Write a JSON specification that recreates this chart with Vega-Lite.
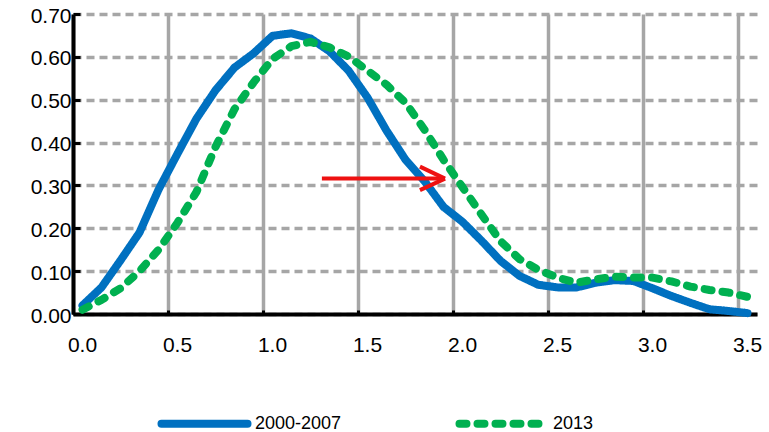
{
  "$schema": "https://vega.github.io/schema/vega-lite/v6.json",
  "width": 684,
  "height": 300,
  "autosize": "none",
  "padding": {"left": 73, "top": 14, "right": 12, "bottom": 118},
  "background": "white",
  "config": {
    "view": {"stroke": null},
    "font": "Liberation Sans",
    "axis": {
      "title": null,
      "labelFontSize": 21,
      "labelColor": "black",
      "labelFont": "Liberation Sans",
      "labelFlush": false,
      "domainColor": "black",
      "domainWidth": 4,
      "tickColor": "black",
      "tickWidth": 3,
      "gridColor": "#A6A6A6",
      "gridWidth": 3.5,
      "gridOpacity": 1
    }
  },
  "datasets": {
    "curves": [
      {"period": "2000-2007", "x": 0.05, "y": 0.02},
      {"period": "2000-2007", "x": 0.15, "y": 0.062},
      {"period": "2000-2007", "x": 0.25, "y": 0.125},
      {"period": "2000-2007", "x": 0.35, "y": 0.19},
      {"period": "2000-2007", "x": 0.45, "y": 0.29},
      {"period": "2000-2007", "x": 0.55, "y": 0.374},
      {"period": "2000-2007", "x": 0.65, "y": 0.456},
      {"period": "2000-2007", "x": 0.75, "y": 0.522},
      {"period": "2000-2007", "x": 0.85, "y": 0.575},
      {"period": "2000-2007", "x": 0.95, "y": 0.608},
      {"period": "2000-2007", "x": 1.05, "y": 0.649},
      {"period": "2000-2007", "x": 1.15, "y": 0.655},
      {"period": "2000-2007", "x": 1.25, "y": 0.643},
      {"period": "2000-2007", "x": 1.35, "y": 0.613},
      {"period": "2000-2007", "x": 1.45, "y": 0.568},
      {"period": "2000-2007", "x": 1.55, "y": 0.505},
      {"period": "2000-2007", "x": 1.65, "y": 0.428},
      {"period": "2000-2007", "x": 1.75, "y": 0.36},
      {"period": "2000-2007", "x": 1.85, "y": 0.31},
      {"period": "2000-2007", "x": 1.95, "y": 0.25},
      {"period": "2000-2007", "x": 2.05, "y": 0.215},
      {"period": "2000-2007", "x": 2.15, "y": 0.171},
      {"period": "2000-2007", "x": 2.25, "y": 0.124},
      {"period": "2000-2007", "x": 2.35, "y": 0.089},
      {"period": "2000-2007", "x": 2.45, "y": 0.068},
      {"period": "2000-2007", "x": 2.55, "y": 0.062},
      {"period": "2000-2007", "x": 2.65, "y": 0.062},
      {"period": "2000-2007", "x": 2.75, "y": 0.073},
      {"period": "2000-2007", "x": 2.85, "y": 0.079},
      {"period": "2000-2007", "x": 2.95, "y": 0.077},
      {"period": "2000-2007", "x": 3.05, "y": 0.06},
      {"period": "2000-2007", "x": 3.15, "y": 0.042},
      {"period": "2000-2007", "x": 3.25, "y": 0.026},
      {"period": "2000-2007", "x": 3.35, "y": 0.011},
      {"period": "2000-2007", "x": 3.45, "y": 0.007},
      {"period": "2000-2007", "x": 3.55, "y": 0.002},
      {"period": "2013", "x": 0.05, "y": 0.01},
      {"period": "2013", "x": 0.15, "y": 0.033},
      {"period": "2013", "x": 0.25, "y": 0.06},
      {"period": "2013", "x": 0.35, "y": 0.1},
      {"period": "2013", "x": 0.45, "y": 0.15},
      {"period": "2013", "x": 0.55, "y": 0.213},
      {"period": "2013", "x": 0.65, "y": 0.285},
      {"period": "2013", "x": 0.75, "y": 0.39},
      {"period": "2013", "x": 0.85, "y": 0.478},
      {"period": "2013", "x": 0.95, "y": 0.54},
      {"period": "2013", "x": 1.05, "y": 0.595},
      {"period": "2013", "x": 1.15, "y": 0.625},
      {"period": "2013", "x": 1.25, "y": 0.635},
      {"period": "2013", "x": 1.35, "y": 0.622},
      {"period": "2013", "x": 1.45, "y": 0.601},
      {"period": "2013", "x": 1.55, "y": 0.568},
      {"period": "2013", "x": 1.65, "y": 0.535},
      {"period": "2013", "x": 1.75, "y": 0.493},
      {"period": "2013", "x": 1.85, "y": 0.43},
      {"period": "2013", "x": 1.95, "y": 0.36},
      {"period": "2013", "x": 2.05, "y": 0.296},
      {"period": "2013", "x": 2.15, "y": 0.232},
      {"period": "2013", "x": 2.25, "y": 0.17},
      {"period": "2013", "x": 2.35, "y": 0.128},
      {"period": "2013", "x": 2.45, "y": 0.103},
      {"period": "2013", "x": 2.55, "y": 0.085},
      {"period": "2013", "x": 2.65, "y": 0.073},
      {"period": "2013", "x": 2.75, "y": 0.081},
      {"period": "2013", "x": 2.85, "y": 0.087},
      {"period": "2013", "x": 2.95, "y": 0.085},
      {"period": "2013", "x": 3.05, "y": 0.085},
      {"period": "2013", "x": 3.15, "y": 0.076},
      {"period": "2013", "x": 3.25, "y": 0.064},
      {"period": "2013", "x": 3.35, "y": 0.056},
      {"period": "2013", "x": 3.45, "y": 0.05},
      {"period": "2013", "x": 3.55, "y": 0.04}
    ],
    "arrow": [
      {"x1": 1.31, "y1": 0.316, "x2": 1.955, "y2": 0.316},
      {"x1": 1.826, "y1": 0.344, "x2": 1.958, "y2": 0.316},
      {"x1": 1.826, "y1": 0.289, "x2": 1.958, "y2": 0.316}
    ]
  },
  "layer": [
    {
      "data": {"name": "curves"},
      "mark": {"type": "line", "strokeWidth": 8, "strokeCap": "round", "strokeJoin": "round"},
      "encoding": {
        "x": {
          "field": "x",
          "type": "quantitative",
          "scale": {"domain": [0, 3.6], "nice": false},
          "axis": {
            "values": [0, 0.5, 1, 1.5, 2, 2.5, 3, 3.5],
            "format": ".1f",
            "tickSize": -4,
            "labelOffset": 9,
            "labelPadding": 24
          }
        },
        "y": {
          "field": "y",
          "type": "quantitative",
          "scale": {"domain": [0, 0.7], "nice": false},
          "axis": {
            "values": [0, 0.1, 0.2, 0.3, 0.4, 0.5, 0.6, 0.7],
            "format": ".2f",
            "tickSize": -7,
            "gridDash": [8, 5],
            "labelPadding": 9,
            "labelOffset": 2
          }
        },
        "color": {
          "field": "period",
          "type": "nominal",
          "scale": {"domain": ["2000-2007", "2013"], "range": ["#0070C0", "#00B050"]},
          "legend": {
            "orient": "none",
            "legendX": 84,
            "legendY": 362,
            "direction": "horizontal",
            "title": null,
            "padding": 0,
            "symbolType": "stroke",
            "symbolSize": 7400,
            "symbolStrokeWidth": 8,
            "labelFontSize": 18,
            "labelColor": "black",
            "labelOffset": 3,
            "columnPadding": 101,
            "encode": {"symbols": {"update": {"strokeCap": {"value": "round"}}}}
          }
        },
        "strokeDash": {
          "field": "period",
          "type": "nominal",
          "scale": {"domain": ["2000-2007", "2013"], "range": [[1, 0], [7, 11]]},
          "legend": {
            "orient": "none",
            "legendX": 84,
            "legendY": 362,
            "direction": "horizontal",
            "title": null,
            "padding": 0,
            "symbolType": "stroke",
            "symbolSize": 7400,
            "symbolStrokeWidth": 8,
            "labelFontSize": 18,
            "labelColor": "black",
            "labelOffset": 3,
            "columnPadding": 101,
            "encode": {"symbols": {"update": {"strokeCap": {"value": "round"}}}}
          }
        }
      }
    },
    {
      "data": {"name": "arrow"},
      "mark": {"type": "rule", "color": "#EE1111", "strokeWidth": 4},
      "encoding": {
        "x": {"field": "x1", "type": "quantitative"},
        "x2": {"field": "x2"},
        "y": {"field": "y1", "type": "quantitative"},
        "y2": {"field": "y2"}
      }
    }
  ]
}
